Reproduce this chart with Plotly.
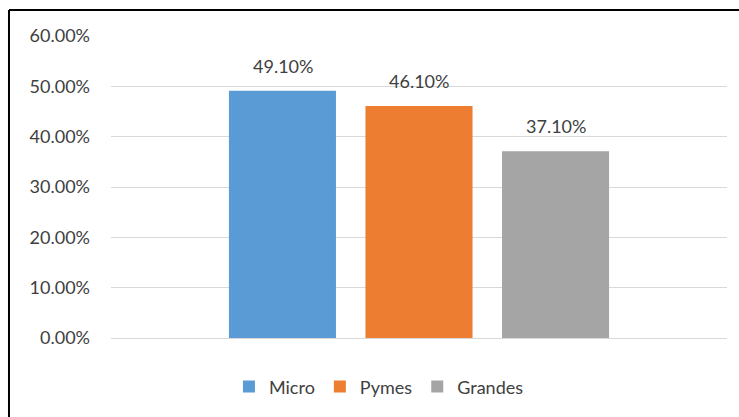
import plotly.graph_objects as go

categories = [""]
series_names = ["Micro", "Pymes", "Grandes"]
series_values = [49.10, 46.10, 37.10]
colors = ["#5B9BD5", "#ED7D31", "#A5A5A5"]
tick_vals = [0, 10, 20, 30, 40, 50, 60]
tick_text = ["0.00%", "10.00%", "20.00%", "30.00%", "40.00%", "50.00%", "60.00%"]

FONT = "Lato, Open Sans, sans-serif"
fig = go.Figure()
for name, val, col in zip(series_names, series_values, colors):
    fig.add_trace(go.Bar(
        x=categories, y=[val], name=name, marker=dict(color=col, line=dict(width=0)),
    ))

slot = 136.5
for i, val in enumerate(series_values):
    fig.add_annotation(
        x=0, y=val, xref="x", yref="y", text=f"{val:.2f}%", showarrow=False,
        xshift=(i - 1) * slot, yshift=12, yanchor="bottom",
        font=dict(size=18, color="#404040", family=FONT),
    )

fig.update_layout(
    width=739, height=417,
    margin=dict(l=111, r=12, t=36, b=79, autoexpand=False),
    paper_bgcolor="white", plot_bgcolor="white",
    barmode="group", bargap=0.335, bargroupgap=0.216,
    font=dict(family=FONT, size=18, color="#404040"),
    showlegend=True,
    legend=dict(orientation="h", x=0.435, xanchor="center", y=-0.162, yanchor="middle",
                font=dict(size=18, color="#404040"), itemwidth=30,
                tracegroupgap=0, traceorder="normal"),
    xaxis=dict(showticklabels=False, showgrid=False, zeroline=False,
               showline=False, ticks="", automargin=False),
    yaxis=dict(range=[0, 60], tickvals=tick_vals, ticktext=tick_text,
               showgrid=True, gridcolor="#D9D9D9", gridwidth=1,
               zeroline=True, zerolinecolor="#D9D9D9", zerolinewidth=1,
               showline=False, ticks="", ticklabelstandoff=20, automargin=False,
               tickfont=dict(size=18, color="#404040")),
    shapes=[
        dict(type="line", xref="paper", yref="paper", x0=-0.1656, x1=-0.1656,
             y0=-0.5, y1=1.086, line=dict(color="black", width=2)),
        dict(type="line", xref="paper", yref="paper", x0=-0.1656, x1=1.5,
             y0=1.086, y1=1.086, line=dict(color="black", width=2)),
    ],
)

fig.write_html(
    "out.html",
    config={"displayModeBar": False},
    post_script="document.body.style.margin='0';document.body.style.overflow='hidden';",
)
